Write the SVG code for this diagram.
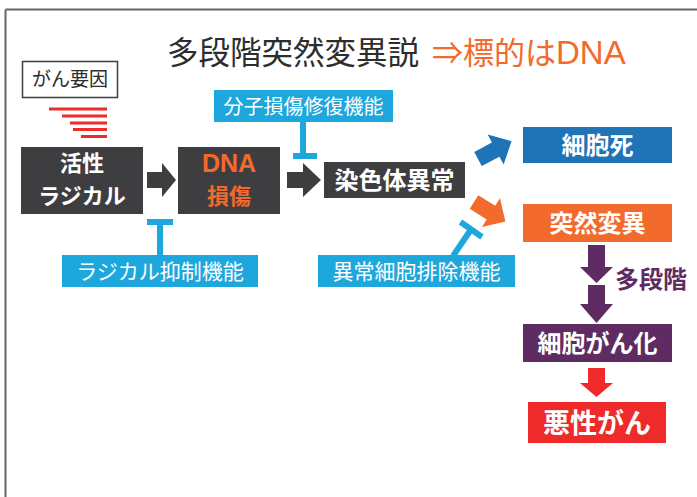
<svg xmlns="http://www.w3.org/2000/svg" width="697" height="497" viewBox="0 0 697 497">
<style>
text{font-family:"Noto Sans CJK JP","Noto Sans",sans-serif}
.b{font-weight:bold;fill:#fff;font-size:24px;text-anchor:middle}
.lb{fill:#fff;font-size:21px;text-anchor:middle}
.dark{fill:#3e3e40}
.lblue{fill:#1ea7dd}
.t{stroke:#1ea7dd;stroke-width:6;fill:none}
.lat{font-family:"Liberation Sans",Arial,sans-serif}
</style>
<rect width="697" height="497" fill="#fff"/>
<g id="frame" fill="none" stroke="#666" stroke-width="2">
<line x1="5.5" y1="9.5" x2="697" y2="9.5"/>
<line x1="5.5" y1="9.5" x2="5.5" y2="497"/>
</g>
<g id="title">
<text x="167" y="64" font-size="31.5" fill="#2d2d2d">多段階突然変異説</text>
<text x="432" y="64" font-size="31" fill="#f26a2c">⇒標的は<tspan class="lat" font-size="33">DNA</tspan></text>
</g>
<g id="gan-youin">
<rect x="22.5" y="61.5" width="95" height="36" fill="#fff" stroke="#3e3e40" stroke-width="1.5"/>
<text x="70" y="86" font-size="19" fill="#2d2d2d" text-anchor="middle">がん要因</text>
<g stroke="#ee2b2a" stroke-width="3">
<line x1="49" y1="109" x2="107" y2="109"/>
<line x1="62" y1="116" x2="107" y2="116"/>
<line x1="70" y1="123" x2="107" y2="123"/>
<line x1="73" y1="129.5" x2="107" y2="129.5"/>
<line x1="81" y1="136.5" x2="107" y2="136.5"/>
</g>
</g>
<g id="radical">
<rect x="21" y="147" width="122" height="67" class="dark"/>
<text x="82" y="171" class="b" style="font-size:22px">活性</text>
<text x="82" y="204" class="b" style="font-size:22px">ラジカル</text>
</g>
<g id="dna">
<rect x="178" y="147" width="102" height="67" class="dark"/>
<text x="229" y="172" class="b lat" style="fill:#f26a2c;font-size:25px">DNA</text>
<text x="229" y="204" class="b" style="fill:#f26a2c;font-size:22px">損傷</text>
</g>
<g id="senshokutai">
<rect x="324" y="162" width="141" height="36" class="dark"/>
<text x="394.5" y="189" class="b">染色体異常</text>
</g>
<g id="repair">
<rect x="214" y="90" width="179" height="32" class="lblue"/>
<text x="303.5" y="113.5" class="lb" style="font-size:20px">分子損傷修復機能</text>
</g>
<g id="radical-suppress">
<rect x="62" y="255" width="196" height="32" class="lblue"/>
<text x="160" y="279" class="lb">ラジカル抑制機能</text>
</g>
<g id="elimination">
<rect x="318" y="255" width="197" height="32" class="lblue"/>
<text x="416.5" y="279" class="lb">異常細胞排除機能</text>
</g>
<g id="saiboushi">
<rect x="523" y="127" width="149" height="36" fill="#1f73b7"/>
<text x="597.5" y="154" class="b">細胞死</text>
</g>
<g id="totsuzen">
<rect x="523" y="204" width="149" height="38" fill="#f26a2c"/>
<text x="597.5" y="232" class="b">突然変異</text>
</g>
<g id="gan-ka">
<rect x="523" y="324" width="149" height="38" fill="#5e2c63"/>
<text x="597.5" y="352" class="b">細胞がん化</text>
</g>
<g id="akusei">
<rect x="528" y="402" width="138" height="41" fill="#ee2b2a"/>
<text x="597" y="433" class="b" style="font-size:27px">悪性がん</text>
</g>
<g id="connectors">
<path d="M147,172 H162 V163 L176,180 L162,197 V188 H147 Z" fill="#3e3e40"/>
<path d="M287,172 H303 V163 L321,180 L303,197 V188 H287 Z" fill="#3e3e40"/>
<path d="M0,-8 H20 V-17 L38,0 L20,17 V8 H0 Z" fill="#1f73b7" transform="translate(478,159) rotate(-28)"/>
<path d="M0,-8 H20 V-17 L37,0 L20,17 V8 H0 Z" fill="#f26a2c" transform="translate(474,202) rotate(32)"/>
<path d="M588,245 H605 V267 H613 L596.5,283 L580,267 H588 Z" fill="#5e2c63"/>
<path d="M588,285 H605 V304 H613 L596.5,323 L580,304 H588 Z" fill="#5e2c63"/>
<path d="M588,368 H605 V383 H613 L596.5,397 L580,383 H588 Z" fill="#ee2b2a"/>
<text x="651" y="288" font-size="24" font-weight="bold" fill="#5e2c63" text-anchor="middle">多段階</text>
<g class="t">
<line x1="303" y1="122" x2="303" y2="156"/>
<line x1="293" y1="156" x2="317" y2="156"/>
<line x1="160" y1="255" x2="160" y2="222"/>
<line x1="147" y1="222" x2="173" y2="222"/>
<line x1="453" y1="256" x2="471" y2="229.5"/>
<line x1="460.5" y1="222" x2="482" y2="237"/>
</g>
</g>
</svg>
